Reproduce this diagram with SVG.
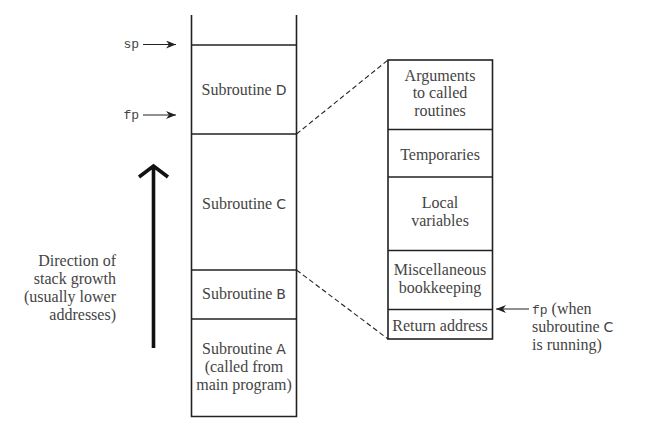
<svg xmlns="http://www.w3.org/2000/svg" width="666" height="432" viewBox="0 0 666 432">
<style>
.t{font-family:"Liberation Serif","Times New Roman",serif;font-size:16px;fill:#444;text-anchor:middle}
.r{text-anchor:end}
.l{text-anchor:start}
.s{font-family:"DejaVu Sans","Liberation Sans",sans-serif;font-size:14px}
.m{font-family:"Liberation Mono","DejaVu Sans Mono",monospace;font-size:13px}
.box{fill:none;stroke:#222;stroke-width:1.6}
.ptr{stroke:#222;stroke-width:1.2;fill:none}
.dash{stroke:#222;stroke-width:1.1;stroke-dasharray:5,3;fill:none}
</style>
<defs>
<marker id="ah" viewBox="0 0 10 8" refX="10" refY="4" markerWidth="10" markerHeight="8" markerUnits="userSpaceOnUse" orient="auto">
<path d="M0,0 L10,4 L0,8 L3,4 Z" fill="#222"/>
</marker>
</defs>
<rect width="666" height="432" fill="#fff"/>
<g id="stack-left">
<path class="box" d="M191.5,15 V416.5 H296.5 V15"/>
</g>
<g id="sub-d">
<line class="box" x1="191.5" y1="45" x2="296.5" y2="45"/>
<text class="t" x="244" y="95">Subroutine <tspan class="s">D</tspan></text>
</g>
<g id="sub-c">
<line class="box" x1="191.5" y1="134" x2="296.5" y2="134"/>
<text class="t" x="244" y="209">Subroutine <tspan class="s">C</tspan></text>
</g>
<g id="sub-b">
<line class="box" x1="191.5" y1="270" x2="296.5" y2="270"/>
<text class="t" x="244" y="299">Subroutine <tspan class="s">B</tspan></text>
</g>
<g id="sub-a">
<line class="box" x1="191.5" y1="319" x2="296.5" y2="319"/>
<text class="t" x="244" y="354">Subroutine <tspan class="s">A</tspan></text>
<text class="t" x="244" y="372">(called from</text>
<text class="t" x="244" y="390">main program)</text>
</g>
<g id="frame-c">
<rect class="box" x="388" y="60" width="104.5" height="279"/>
<line class="box" x1="388" y1="129.5" x2="492.5" y2="129.5"/>
<line class="box" x1="388" y1="177" x2="492.5" y2="177"/>
<line class="box" x1="388" y1="250.5" x2="492.5" y2="250.5"/>
<line class="box" x1="388" y1="309.5" x2="492.5" y2="309.5"/>
<text class="t" x="440" y="81">Arguments</text>
<text class="t" x="440" y="98">to called</text>
<text class="t" x="440" y="116">routines</text>
<text class="t" x="440" y="160">Temporaries</text>
<text class="t" x="440" y="208">Local</text>
<text class="t" x="440" y="226">variables</text>
<text class="t" x="440" y="275">Miscellaneous</text>
<text class="t" x="440" y="293">bookkeeping</text>
<text class="t" x="440" y="331">Return address</text>
</g>
<g id="labels">
<text class="t m r" x="139" y="48">sp</text>
<text class="t m r" x="139" y="119">fp</text>
<text class="t r" x="116" y="266">Direction of</text>
<text class="t r" x="116" y="284">stack growth</text>
<text class="t r" x="116" y="302">(usually lower</text>
<text class="t r" x="116" y="320">addresses)</text>
<text class="t l" x="532" y="314"><tspan class="m">fp</tspan> (when</text>
<text class="t l" x="532" y="332">subroutine <tspan class="s">C</tspan></text>
<text class="t l" x="532" y="350">is running)</text>
</g>
<g id="connectors">
<line class="ptr" x1="143" y1="44.5" x2="176" y2="44.5" marker-end="url(#ah)"/>
<line class="ptr" x1="143" y1="115" x2="176" y2="115" marker-end="url(#ah)"/>
<line class="ptr" x1="529" y1="309" x2="496" y2="309" marker-end="url(#ah)"/>
<line class="dash" x1="296.5" y1="134" x2="388" y2="60"/>
<line class="dash" x1="296.5" y1="270" x2="388" y2="339"/>
<path d="M153.5,348 V167 M139,177 L153.5,166 L168,177" stroke="#111" stroke-width="3.6" fill="none"/>
</g>
</svg>
